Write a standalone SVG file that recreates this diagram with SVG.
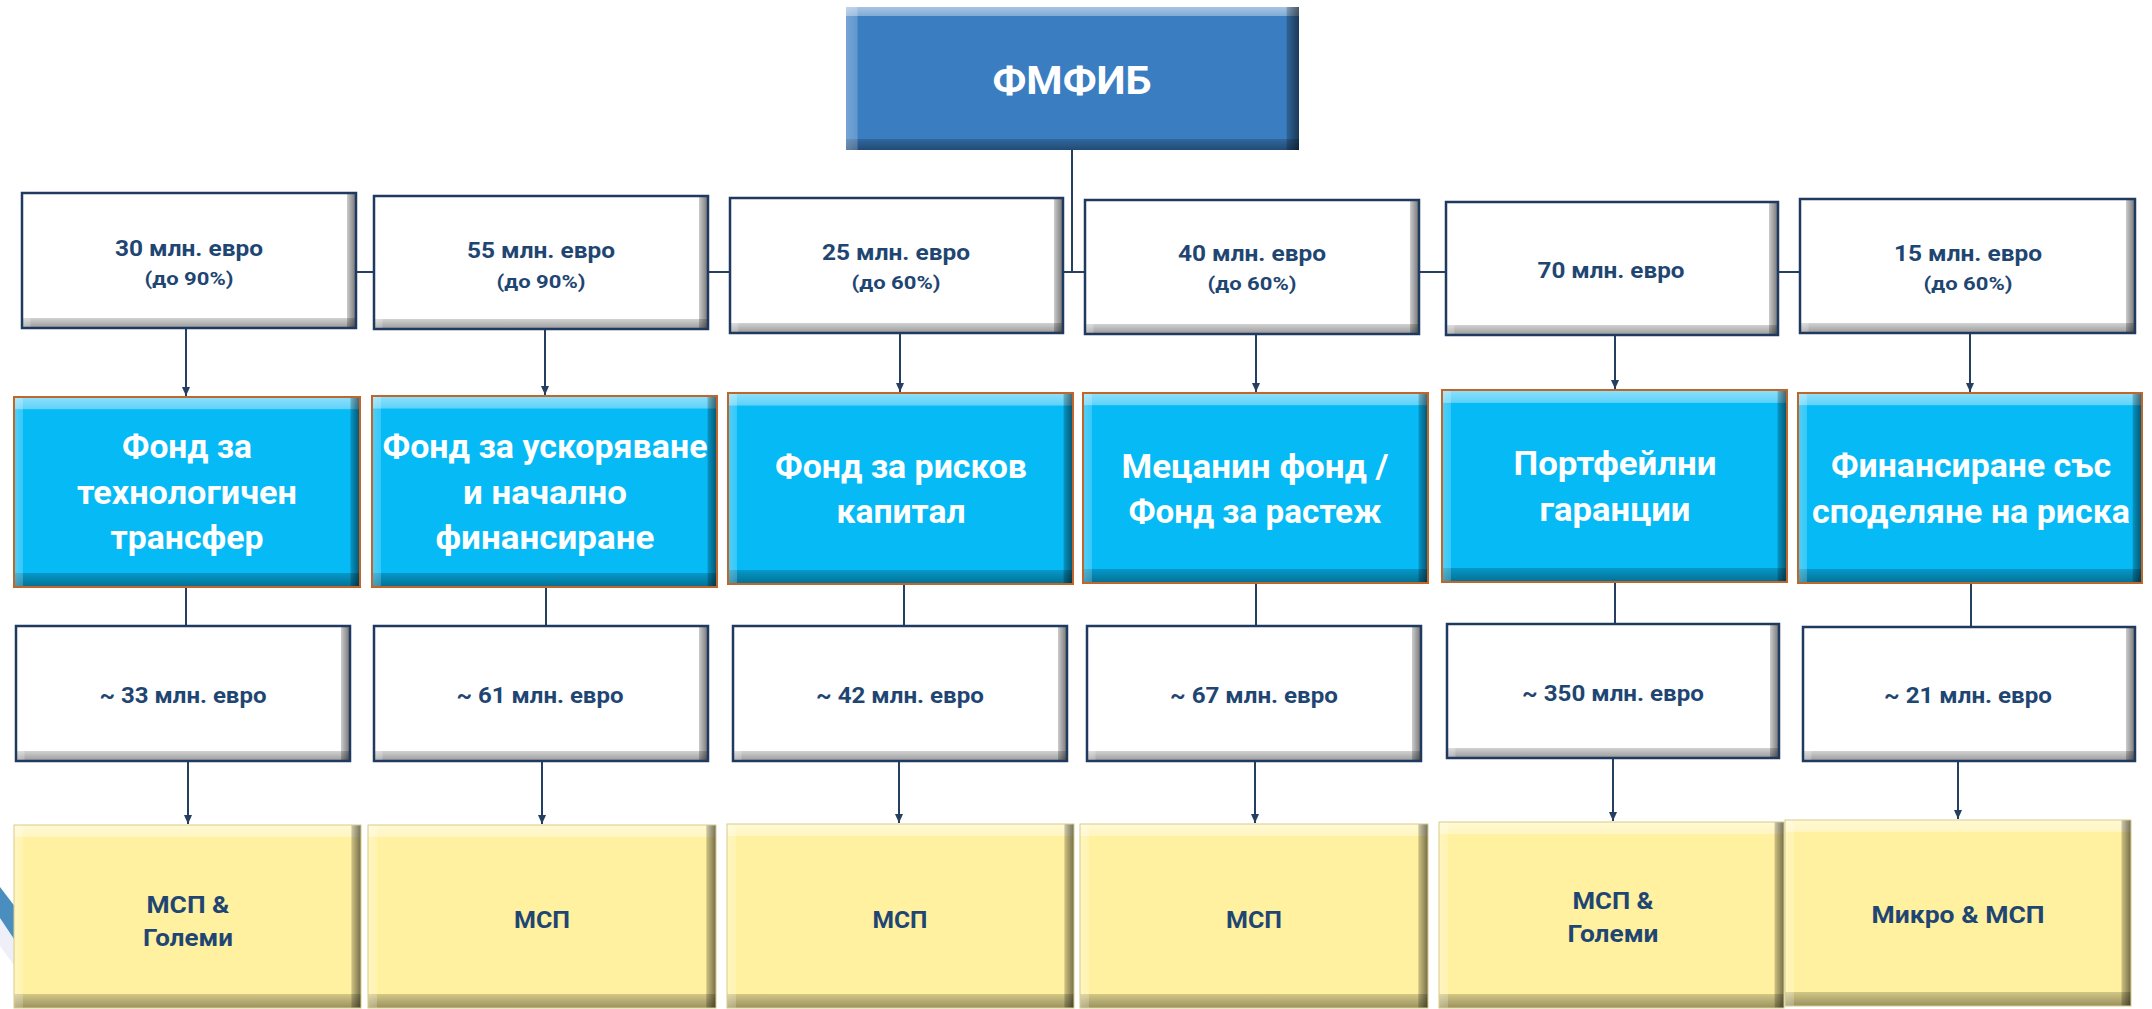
<svg xmlns="http://www.w3.org/2000/svg" width="2152" height="1009" viewBox="0 0 2152 1009">
<defs>
<linearGradient id="gv" x1="0" y1="0" x2="0" y2="1">
<stop offset="0" stop-color="#fff" stop-opacity="0.55"/>
<stop offset="0.065" stop-color="#fff" stop-opacity="0.35"/>
<stop offset="0.066" stop-color="#fff" stop-opacity="0"/>
<stop offset="0.925" stop-color="#000" stop-opacity="0"/>
<stop offset="0.926" stop-color="#000" stop-opacity="0.18"/>
<stop offset="1" stop-color="#000" stop-opacity="0.4"/>
</linearGradient>
<linearGradient id="gh" x1="0" y1="0" x2="1" y2="0">
<stop offset="0" stop-color="#fff" stop-opacity="0.3"/>
<stop offset="0.025" stop-color="#fff" stop-opacity="0.2"/>
<stop offset="0.026" stop-color="#fff" stop-opacity="0"/>
<stop offset="0.972" stop-color="#000" stop-opacity="0"/>
<stop offset="0.973" stop-color="#000" stop-opacity="0.2"/>
<stop offset="1" stop-color="#000" stop-opacity="0.55"/>
</linearGradient>
<marker id="ar" markerWidth="10" markerHeight="10" refX="9" refY="5" orient="auto" markerUnits="userSpaceOnUse">
<path d="M0,1 L9,5 L0,9 Z" fill="#243F60"/>
</marker>
<style>
.top{fill:#3A7DC1}
.wf{fill:#FFFFFF}
.bf{fill:#06BAF6}
.yf{fill:#FFF1A0}
.ov1{fill:url(#gv)}
.ov2{fill:url(#gh)}
.ws{fill:none;stroke:#1F3A60;stroke-width:2.5}
.bs{fill:none;stroke:#C0662A;stroke-width:2}
.ys{fill:none;stroke:#D8CC88;stroke-width:1}
text{font-family:Roboto,"Noto Sans","DejaVu Sans",sans-serif;font-weight:bold;text-anchor:middle}
.t1{font-size:22.5px;fill:#1F4673}
.t2{font-size:18.5px;fill:#1F4673}
.tb{font-size:32.5px;fill:#FFFFFF}
.ty{font-size:23.5px;fill:#1F4673}
.tt{font-size:39px;fill:#FFFFFF}
.cn{stroke:#243F60;stroke-width:2;fill:none}
.ca{stroke:#243F60;stroke-width:2;fill:none;marker-end:url(#ar)}
</style>
</defs>
<rect x="0" y="0" width="2152" height="1009" fill="#FFFFFF"/>
<polygon points="0,918 16,942 16,968 0,946" fill="#EEEFF8"/>
<polygon points="0,887 16,908 16,942 0,918" fill="#4A8EC0"/>

<g id="connectors">
<line class="cn" x1="1072" y1="150" x2="1072" y2="272"/>
<line class="cn" x1="356" y1="272" x2="1800" y2="272"/>
<line class="ca" x1="186" y1="328" x2="186" y2="396"/>
<line class="ca" x1="545" y1="329" x2="545" y2="395"/>
<line class="ca" x1="900" y1="333" x2="900" y2="392"/>
<line class="ca" x1="1256" y1="334" x2="1256" y2="392"/>
<line class="ca" x1="1615" y1="335" x2="1615" y2="389"/>
<line class="ca" x1="1970" y1="333" x2="1970" y2="392"/>
<line class="cn" x1="186" y1="587" x2="186" y2="626"/>
<line class="cn" x1="546" y1="587" x2="546" y2="626"/>
<line class="cn" x1="904" y1="584" x2="904" y2="626"/>
<line class="cn" x1="1256" y1="583" x2="1256" y2="626"/>
<line class="cn" x1="1615" y1="582" x2="1615" y2="624"/>
<line class="cn" x1="1971" y1="583" x2="1971" y2="627"/>
<line class="ca" x1="188" y1="761" x2="188" y2="824"/>
<line class="ca" x1="542" y1="761" x2="542" y2="824"/>
<line class="ca" x1="899" y1="761" x2="899" y2="823"/>
<line class="ca" x1="1255" y1="761" x2="1255" y2="823"/>
<line class="ca" x1="1613" y1="758" x2="1613" y2="821"/>
<line class="ca" x1="1958" y1="761" x2="1958" y2="819"/>
</g>

<g id="fmfib">
<rect class="top" x="846" y="7" width="453" height="143"/>
<rect class="ov1" x="846" y="7" width="453" height="143"/>
<rect class="ov2" x="846" y="7" width="453" height="143"/>
<text class="tt" x="1072" y="94" textLength="159" lengthAdjust="spacingAndGlyphs">ФМФИБ</text>
</g>

<g id="amount1">
<rect class="wf" x="22" y="193" width="334" height="135"/><rect class="ov1" x="22" y="193" width="334" height="135"/><rect class="ov2" x="22" y="193" width="334" height="135"/><rect class="ws" x="22" y="193" width="334" height="135"/>
<text class="t1" x="189" y="256" textLength="148" lengthAdjust="spacingAndGlyphs">30 млн. евро</text>
<text class="t2" x="189" y="285" textLength="89" lengthAdjust="spacingAndGlyphs">(до 90%)</text>
</g>
<g id="amount2">
<rect class="wf" x="374" y="196" width="334" height="133"/><rect class="ov1" x="374" y="196" width="334" height="133"/><rect class="ov2" x="374" y="196" width="334" height="133"/><rect class="ws" x="374" y="196" width="334" height="133"/>
<text class="t1" x="541" y="258" textLength="148" lengthAdjust="spacingAndGlyphs">55 млн. евро</text>
<text class="t2" x="541" y="288" textLength="89" lengthAdjust="spacingAndGlyphs">(до 90%)</text>
</g>
<g id="amount3">
<rect class="wf" x="730" y="198" width="333" height="135"/><rect class="ov1" x="730" y="198" width="333" height="135"/><rect class="ov2" x="730" y="198" width="333" height="135"/><rect class="ws" x="730" y="198" width="333" height="135"/>
<text class="t1" x="896" y="260" textLength="148" lengthAdjust="spacingAndGlyphs">25 млн. евро</text>
<text class="t2" x="896" y="289" textLength="89" lengthAdjust="spacingAndGlyphs">(до 60%)</text>
</g>
<g id="amount4">
<rect class="wf" x="1085" y="200" width="334" height="134"/><rect class="ov1" x="1085" y="200" width="334" height="134"/><rect class="ov2" x="1085" y="200" width="334" height="134"/><rect class="ws" x="1085" y="200" width="334" height="134"/>
<text class="t1" x="1252" y="261" textLength="148" lengthAdjust="spacingAndGlyphs">40 млн. евро</text>
<text class="t2" x="1252" y="290" textLength="89" lengthAdjust="spacingAndGlyphs">(до 60%)</text>
</g>
<g id="amount5">
<rect class="wf" x="1446" y="202" width="332" height="133"/><rect class="ov1" x="1446" y="202" width="332" height="133"/><rect class="ov2" x="1446" y="202" width="332" height="133"/><rect class="ws" x="1446" y="202" width="332" height="133"/>
<text class="t1" x="1611" y="278" textLength="147" lengthAdjust="spacingAndGlyphs">70 млн. евро</text>
</g>
<g id="amount6">
<rect class="wf" x="1800" y="199" width="335" height="134"/><rect class="ov1" x="1800" y="199" width="335" height="134"/><rect class="ov2" x="1800" y="199" width="335" height="134"/><rect class="ws" x="1800" y="199" width="335" height="134"/>
<text class="t1" x="1968" y="261" textLength="148" lengthAdjust="spacingAndGlyphs">15 млн. евро</text>
<text class="t2" x="1968" y="290" textLength="89" lengthAdjust="spacingAndGlyphs">(до 60%)</text>
</g>

<g id="fund1">
<rect class="bf" x="14" y="397" width="346" height="190"/><rect class="ov1" x="14" y="397" width="346" height="190"/><rect class="ov2" x="14" y="397" width="346" height="190"/><rect class="bs" x="14" y="397" width="346" height="190"/>
<text class="tb" x="187" y="458" textLength="130" lengthAdjust="spacingAndGlyphs">Фонд за</text>
<text class="tb" x="187" y="504" textLength="220" lengthAdjust="spacingAndGlyphs">технологичен</text>
<text class="tb" x="187" y="549" textLength="153" lengthAdjust="spacingAndGlyphs">трансфер</text>
</g>
<g id="fund2">
<rect class="bf" x="372" y="396" width="345" height="191"/><rect class="ov1" x="372" y="396" width="345" height="191"/><rect class="ov2" x="372" y="396" width="345" height="191"/><rect class="bs" x="372" y="396" width="345" height="191"/>
<text class="tb" x="545" y="458" textLength="325" lengthAdjust="spacingAndGlyphs">Фонд за ускоряване</text>
<text class="tb" x="545" y="504" textLength="164" lengthAdjust="spacingAndGlyphs">и начално</text>
<text class="tb" x="545" y="549" textLength="219" lengthAdjust="spacingAndGlyphs">финансиране</text>
</g>
<g id="fund3">
<rect class="bf" x="728" y="393" width="345" height="191"/><rect class="ov1" x="728" y="393" width="345" height="191"/><rect class="ov2" x="728" y="393" width="345" height="191"/><rect class="bs" x="728" y="393" width="345" height="191"/>
<text class="tb" x="901" y="478" textLength="252" lengthAdjust="spacingAndGlyphs">Фонд за рисков</text>
<text class="tb" x="901" y="523" textLength="129" lengthAdjust="spacingAndGlyphs">капитал</text>
</g>
<g id="fund4">
<rect class="bf" x="1083" y="393" width="345" height="190"/><rect class="ov1" x="1083" y="393" width="345" height="190"/><rect class="ov2" x="1083" y="393" width="345" height="190"/><rect class="bs" x="1083" y="393" width="345" height="190"/>
<text class="tb" x="1255" y="478" textLength="267" lengthAdjust="spacingAndGlyphs">Мецанин фонд /</text>
<text class="tb" x="1255" y="523" textLength="253" lengthAdjust="spacingAndGlyphs">Фонд за растеж</text>
</g>
<g id="fund5">
<rect class="bf" x="1442" y="390" width="345" height="192"/><rect class="ov1" x="1442" y="390" width="345" height="192"/><rect class="ov2" x="1442" y="390" width="345" height="192"/><rect class="bs" x="1442" y="390" width="345" height="192"/>
<text class="tb" x="1615" y="475" textLength="203" lengthAdjust="spacingAndGlyphs">Портфейлни</text>
<text class="tb" x="1615" y="521" textLength="151" lengthAdjust="spacingAndGlyphs">гаранции</text>
</g>
<g id="fund6">
<rect class="bf" x="1798" y="393" width="344" height="190"/><rect class="ov1" x="1798" y="393" width="344" height="190"/><rect class="ov2" x="1798" y="393" width="344" height="190"/><rect class="bs" x="1798" y="393" width="344" height="190"/>
<text class="tb" x="1971" y="477" textLength="280" lengthAdjust="spacingAndGlyphs">Финансиране със</text>
<text class="tb" x="1971" y="523" textLength="318" lengthAdjust="spacingAndGlyphs">споделяне на риска</text>
</g>

<g id="leverage1">
<rect class="wf" x="16" y="626" width="334" height="135"/><rect class="ov1" x="16" y="626" width="334" height="135"/><rect class="ov2" x="16" y="626" width="334" height="135"/><rect class="ws" x="16" y="626" width="334" height="135"/>
<text class="t1" x="183" y="703" textLength="167" lengthAdjust="spacingAndGlyphs">~ 33 млн. евро</text>
</g>
<g id="leverage2">
<rect class="wf" x="374" y="626" width="334" height="135"/><rect class="ov1" x="374" y="626" width="334" height="135"/><rect class="ov2" x="374" y="626" width="334" height="135"/><rect class="ws" x="374" y="626" width="334" height="135"/>
<text class="t1" x="540" y="703" textLength="167" lengthAdjust="spacingAndGlyphs">~ 61 млн. евро</text>
</g>
<g id="leverage3">
<rect class="wf" x="733" y="626" width="334" height="135"/><rect class="ov1" x="733" y="626" width="334" height="135"/><rect class="ov2" x="733" y="626" width="334" height="135"/><rect class="ws" x="733" y="626" width="334" height="135"/>
<text class="t1" x="900" y="703" textLength="168" lengthAdjust="spacingAndGlyphs">~ 42 млн. евро</text>
</g>
<g id="leverage4">
<rect class="wf" x="1087" y="626" width="334" height="135"/><rect class="ov1" x="1087" y="626" width="334" height="135"/><rect class="ov2" x="1087" y="626" width="334" height="135"/><rect class="ws" x="1087" y="626" width="334" height="135"/>
<text class="t1" x="1254" y="703" textLength="168" lengthAdjust="spacingAndGlyphs">~ 67 млн. евро</text>
</g>
<g id="leverage5">
<rect class="wf" x="1447" y="624" width="332" height="134"/><rect class="ov1" x="1447" y="624" width="332" height="134"/><rect class="ov2" x="1447" y="624" width="332" height="134"/><rect class="ws" x="1447" y="624" width="332" height="134"/>
<text class="t1" x="1613" y="701" textLength="182" lengthAdjust="spacingAndGlyphs">~ 350 млн. евро</text>
</g>
<g id="leverage6">
<rect class="wf" x="1803" y="627" width="332" height="134"/><rect class="ov1" x="1803" y="627" width="332" height="134"/><rect class="ov2" x="1803" y="627" width="332" height="134"/><rect class="ws" x="1803" y="627" width="332" height="134"/>
<text class="t1" x="1968" y="703" textLength="168" lengthAdjust="spacingAndGlyphs">~ 21 млн. евро</text>
</g>

<g id="target1">
<rect class="yf" x="14" y="825" width="347" height="183"/><rect class="ov1" x="14" y="825" width="347" height="183"/><rect class="ov2" x="14" y="825" width="347" height="183"/><rect class="ys" x="14" y="825" width="347" height="183"/>
<text class="ty" x="188" y="913" textLength="83" lengthAdjust="spacingAndGlyphs">МСП &amp;</text>
<text class="ty" x="188" y="946" textLength="90" lengthAdjust="spacingAndGlyphs">Големи</text>
</g>
<g id="target2">
<rect class="yf" x="368" y="825" width="348" height="183"/><rect class="ov1" x="368" y="825" width="348" height="183"/><rect class="ov2" x="368" y="825" width="348" height="183"/><rect class="ys" x="368" y="825" width="348" height="183"/>
<text class="ty" x="542" y="928" textLength="56" lengthAdjust="spacingAndGlyphs">МСП</text>
</g>
<g id="target3">
<rect class="yf" x="727" y="824" width="347" height="184"/><rect class="ov1" x="727" y="824" width="347" height="184"/><rect class="ov2" x="727" y="824" width="347" height="184"/><rect class="ys" x="727" y="824" width="347" height="184"/>
<text class="ty" x="900" y="928" textLength="55" lengthAdjust="spacingAndGlyphs">МСП</text>
</g>
<g id="target4">
<rect class="yf" x="1080" y="824" width="348" height="184"/><rect class="ov1" x="1080" y="824" width="348" height="184"/><rect class="ov2" x="1080" y="824" width="348" height="184"/><rect class="ys" x="1080" y="824" width="348" height="184"/>
<text class="ty" x="1254" y="928" textLength="56" lengthAdjust="spacingAndGlyphs">МСП</text>
</g>
<g id="target5">
<rect class="yf" x="1439" y="822" width="345" height="186"/><rect class="ov1" x="1439" y="822" width="345" height="186"/><rect class="ov2" x="1439" y="822" width="345" height="186"/><rect class="ys" x="1439" y="822" width="345" height="186"/>
<text class="ty" x="1613" y="909" textLength="81" lengthAdjust="spacingAndGlyphs">МСП &amp;</text>
<text class="ty" x="1613" y="942" textLength="91" lengthAdjust="spacingAndGlyphs">Големи</text>
</g>
<g id="target6">
<rect class="yf" x="1785" y="820" width="346" height="186"/><rect class="ov1" x="1785" y="820" width="346" height="186"/><rect class="ov2" x="1785" y="820" width="346" height="186"/><rect class="ys" x="1785" y="820" width="346" height="186"/>
<text class="ty" x="1958" y="923" textLength="173" lengthAdjust="spacingAndGlyphs">Микро &amp; МСП</text>
</g>
</svg>
